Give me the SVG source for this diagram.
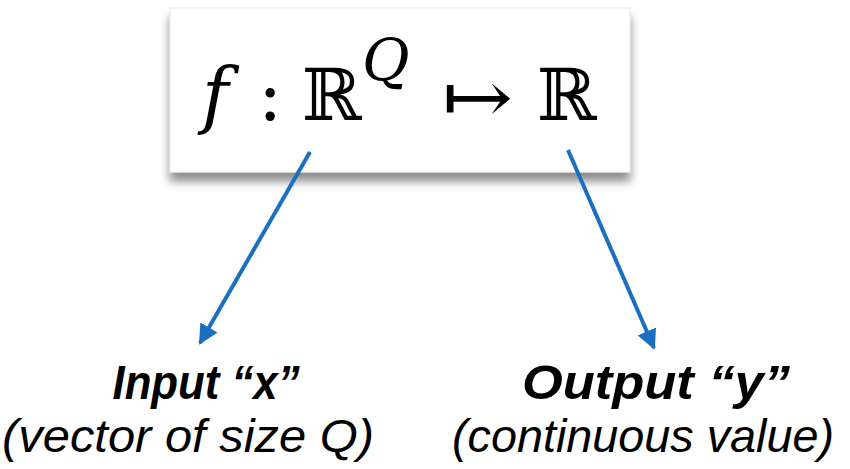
<svg xmlns="http://www.w3.org/2000/svg" width="850" height="469" viewBox="0 0 850 469">
<style>
.math{font-family:"DejaVu Serif","Liberation Serif",serif;fill:#000}
.lbl{font-family:"Liberation Sans",Arial,sans-serif;font-style:italic;fill:#000}
.conn{stroke:#1a6fc0;stroke-width:4;fill:none}
</style>
<defs>
<filter id="sh" x="-10%" y="-10%" width="120%" height="140%">
<feDropShadow dx="0" dy="9" stdDeviation="5" flood-color="#000" flood-opacity="0.45"/>
</filter>
<marker id="ah" viewBox="0 0 10 10" refX="9" refY="5" markerWidth="5" markerHeight="5" markerUnits="strokeWidth" orient="auto">
<path d="M0,0 L10,5 L0,10 z" fill="#1a6fc0"/>
</marker>
</defs>
<rect width="850" height="469" fill="#fff"/>
<g id="formula-box">
<rect x="170" y="8" width="460" height="164" fill="#fff" stroke="#e6e6e6" stroke-width="1" filter="url(#sh)"/>
<text class="math" x="202" y="120" font-size="72" font-style="italic">f</text>
<text class="math" x="258" y="120" font-size="72">:</text>
<text class="math" x="302" y="120" font-size="72">ℝ</text>
<text class="math" x="362" y="80" font-size="58" font-style="italic">Q</text>
<text class="math" x="442" y="122" font-size="72" textLength="71" lengthAdjust="spacingAndGlyphs">↦</text>
<text class="math" x="537" y="120" font-size="72">ℝ</text>
</g>
<g id="connectors">
<line class="conn" x1="310" y1="152" x2="200" y2="343" marker-end="url(#ah)"/>
<line class="conn" x1="568" y1="150" x2="654" y2="348" marker-end="url(#ah)"/>
</g>
<g id="input">
<text class="lbl" x="206" y="399" font-size="48" font-weight="bold" text-anchor="middle" textLength="187" lengthAdjust="spacingAndGlyphs">Input “x”</text>
<text class="lbl" x="188" y="452" font-size="47" text-anchor="middle" textLength="372" lengthAdjust="spacingAndGlyphs">(vector of size Q)</text>
</g>
<g id="output">
<text class="lbl" x="656" y="399" font-size="48" font-weight="bold" text-anchor="middle" textLength="268" lengthAdjust="spacingAndGlyphs">Output “y”</text>
<text class="lbl" x="643" y="452" font-size="47" text-anchor="middle" textLength="382" lengthAdjust="spacingAndGlyphs">(continuous value)</text>
</g>
</svg>
